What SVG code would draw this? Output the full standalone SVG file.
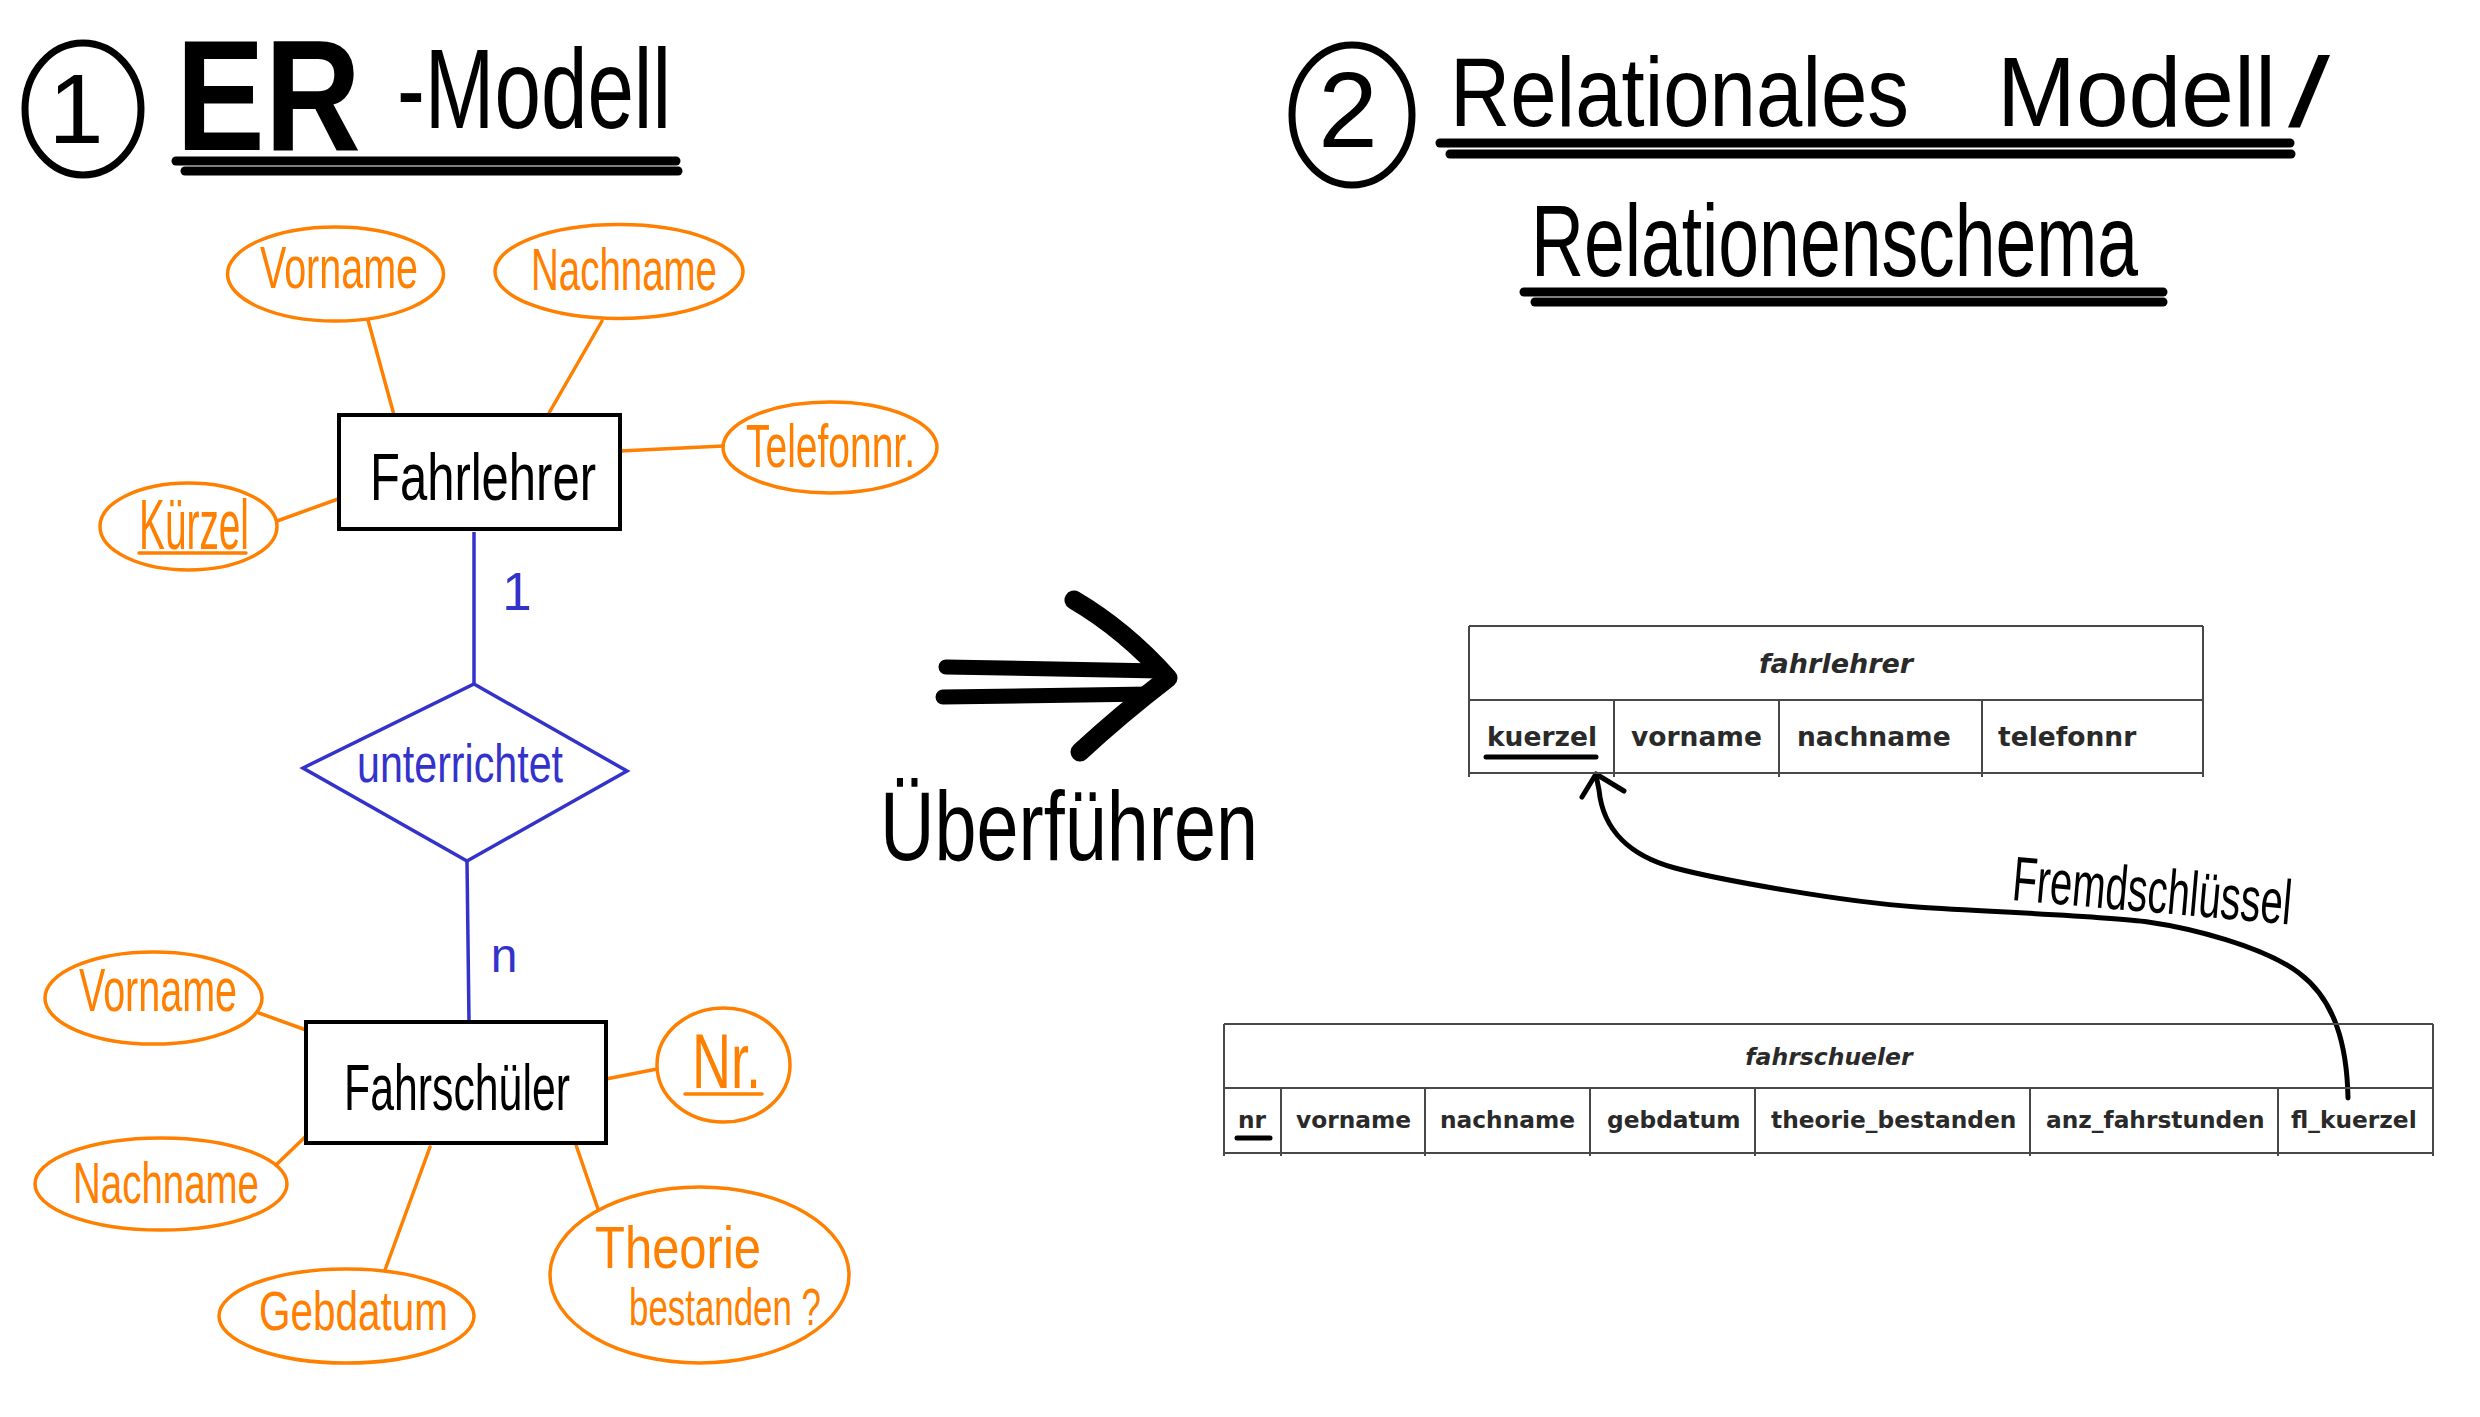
<svg xmlns="http://www.w3.org/2000/svg" width="2480" height="1417" viewBox="0 0 2480 1417">
<style>
.hw{font-family:"Liberation Sans Narrow","Liberation Sans",sans-serif;}
.org{fill:#ff8000;}
.blu{fill:#3333cc;}
.blk{fill:#000;}
.oe{fill:none;stroke:#ff8000;stroke-width:3.5;}
.ol{stroke:#ff8000;stroke-width:3.5;stroke-linecap:round;}
.bl{stroke:#3333cc;stroke-width:3.5;fill:none;}
.box{fill:#fff;stroke:#000;stroke-width:4;}
.ul{stroke:#000;stroke-width:9;stroke-linecap:round;}
.tb{font-family:"DejaVu Sans",sans-serif;font-weight:bold;fill:#2a2a2a;}
.tl{stroke:#484848;stroke-width:2;fill:none;}
.pen{fill:none;stroke:#000;stroke-linecap:round;stroke-linejoin:round;}
</style>

<rect width="2480" height="1417" fill="#fff"/>

<!-- Titles -->
<g id="title1">
<ellipse cx="83" cy="109" rx="58" ry="66" fill="none" stroke="#000" stroke-width="7"/>
<text class="hw blk" x="76" y="143" font-size="99" text-anchor="middle">1</text>
<text class="hw blk" x="176" y="150" font-size="158" font-weight="bold" textLength="185" lengthAdjust="spacingAndGlyphs">ER</text>
<text class="hw blk" x="397" y="128" font-size="113" textLength="274" lengthAdjust="spacingAndGlyphs">-Modell</text>
<line class="ul" x1="176" y1="161" x2="676" y2="161"/>
<line class="ul" x1="185" y1="171" x2="678" y2="171"/>
</g>

<g id="title2">
<ellipse cx="1352" cy="115" rx="60" ry="70" fill="none" stroke="#000" stroke-width="7"/>
<text class="hw blk" x="1348" y="147" font-size="107" text-anchor="middle">2</text>
<text class="hw blk" x="1450" y="126" font-size="98" textLength="459" lengthAdjust="spacingAndGlyphs">Relationales</text>
<text class="hw blk" x="1997" y="126" font-size="98" textLength="279" lengthAdjust="spacingAndGlyphs">Modell</text>
<text class="hw blk" x="2288" y="126" font-size="98" textLength="42" lengthAdjust="spacingAndGlyphs">/</text>
<line class="ul" x1="1440" y1="143" x2="2290" y2="143"/>
<line class="ul" x1="1450" y1="154" x2="2291" y2="154"/>
<text class="hw blk" x="1531" y="276" font-size="102" textLength="607" lengthAdjust="spacingAndGlyphs">Relationenschema</text>
<line class="ul" x1="1524" y1="292" x2="2163" y2="292"/>
<line class="ul" x1="1535" y1="302" x2="2163" y2="302"/>
</g>

<!-- Transition arrow -->
<g id="ueberfuehren">
<path class="pen" stroke-width="15" d="M946,667 L1160,671"/>
<path class="pen" stroke-width="15" d="M943,697 L1150,694"/>
<path class="pen" stroke-width="19" d="M1074,600 Q1125,630 1168,678 Q1120,715 1080,752"/>
<text class="hw blk" x="880" y="860" font-size="98" textLength="378" lengthAdjust="spacingAndGlyphs">Überführen</text>
</g>

<!-- Connectors -->
<g id="connectors">
<line class="ol" x1="368" y1="320" x2="394" y2="415"/>
<line class="ol" x1="602" y1="321" x2="549" y2="413"/>
<line class="ol" x1="620" y1="451" x2="723" y2="446"/>
<line class="ol" x1="277" y1="521" x2="338" y2="499"/>
<line class="ol" x1="259" y1="1013" x2="306" y2="1030"/>
<line class="ol" x1="305" y1="1137" x2="276" y2="1165"/>
<line class="ol" x1="606" y1="1079" x2="657" y2="1069"/>
<line class="ol" x1="430" y1="1147" x2="385" y2="1270"/>
<line class="ol" x1="575" y1="1142" x2="598" y2="1209"/>
<line class="bl" x1="474" y1="532" x2="474" y2="684"/>
<line class="bl" x1="467" y1="861" x2="469" y2="1022"/>
<text class="hw blu" x="517" y="610" font-size="53" text-anchor="middle">1</text>
<text class="hw blu" x="504" y="972" font-size="48" text-anchor="middle">n</text>
<path class="pen" stroke-width="5" d="M2348,1098 C2347,1045 2335,1000 2299,973 S2190,928 2148,922 S1990,912 1917,907 S1720,880 1675,868 S1603,830 1599,790 L1596,775"/>
<path class="pen" stroke-width="5" d="M1582,797 L1596,774 L1624,791"/>
<text class="hw blk" x="2011" y="900" font-size="63" textLength="280" lengthAdjust="spacingAndGlyphs" transform="rotate(5 2011 900)">Fremdschlüssel</text>
</g>

<!-- ER nodes -->
<g id="fahrlehrer-entity">
<rect class="box" x="339" y="415" width="281" height="114"/>
<text class="hw blk" x="370" y="500" font-size="66" textLength="226" lengthAdjust="spacingAndGlyphs">Fahrlehrer</text>
</g>
<g id="attr-fl-vorname">
<ellipse class="oe" cx="335.5" cy="274" rx="108" ry="47"/>
<text class="hw org" x="260" y="288" font-size="60" textLength="158" lengthAdjust="spacingAndGlyphs">Vorname</text>
</g>
<g id="attr-fl-nachname">
<ellipse class="oe" cx="619" cy="271.5" rx="124" ry="47"/>
<text class="hw org" x="531" y="290" font-size="59" textLength="186" lengthAdjust="spacingAndGlyphs">Nachname</text>
</g>
<g id="attr-fl-telefonnr">
<ellipse class="oe" cx="830" cy="447.5" rx="107" ry="45.5"/>
<text class="hw org" x="746" y="467" font-size="62" textLength="169" lengthAdjust="spacingAndGlyphs">Telefonnr.</text>
</g>
<g id="attr-fl-kuerzel">
<ellipse class="oe" cx="188.5" cy="526.5" rx="88.5" ry="43.5"/>
<text class="hw org" x="139" y="549" font-size="70" textLength="110" lengthAdjust="spacingAndGlyphs">Kürzel</text>
<line class="ol" x1="139" y1="553" x2="246" y2="553"/>
</g>
<g id="rel-unterrichtet">
<polygon class="bl" points="474,684 627,771 467,861 303,768"/>
<text class="hw blu" x="357" y="782" font-size="54" textLength="206" lengthAdjust="spacingAndGlyphs">unterrichtet</text>
</g>
<g id="fahrschueler-entity">
<rect class="box" x="306" y="1022" width="300" height="121"/>
<text class="hw blk" x="344" y="1110" font-size="64" textLength="226" lengthAdjust="spacingAndGlyphs">Fahrschüler</text>
</g>
<g id="attr-fs-vorname">
<ellipse class="oe" cx="153.5" cy="998" rx="108.5" ry="46"/>
<text class="hw org" x="79" y="1011" font-size="61" textLength="158" lengthAdjust="spacingAndGlyphs">Vorname</text>
</g>
<g id="attr-fs-nachname">
<ellipse class="oe" cx="161" cy="1184" rx="126" ry="46"/>
<text class="hw org" x="73" y="1203" font-size="58" textLength="186" lengthAdjust="spacingAndGlyphs">Nachname</text>
</g>
<g id="attr-fs-nr">
<ellipse class="oe" cx="723.5" cy="1065" rx="66.5" ry="57"/>
<text class="hw org" x="692" y="1088" font-size="78" textLength="69" lengthAdjust="spacingAndGlyphs">Nr.</text>
<line class="ol" x1="685" y1="1094" x2="762" y2="1094"/>
</g>
<g id="attr-fs-gebdatum">
<ellipse class="oe" cx="346.5" cy="1316" rx="127.5" ry="47"/>
<text class="hw org" x="259" y="1330" font-size="56" textLength="189" lengthAdjust="spacingAndGlyphs">Gebdatum</text>
</g>
<g id="attr-fs-theorie">
<ellipse class="oe" cx="699.5" cy="1275" rx="149.5" ry="88"/>
<text class="hw org" x="595" y="1268" font-size="60" textLength="166" lengthAdjust="spacingAndGlyphs">Theorie</text>
<text class="hw org" x="629" y="1325" font-size="52" textLength="192" lengthAdjust="spacingAndGlyphs">bestanden ?</text>
</g>

<!-- Relational tables -->
<g id="table-fahrlehrer">
<path class="tl" d="M1469,626 H2203 M1469,700 H2203 M1469,773 H2203 M1469,626 V777 M2203,626 V777 M1614,700 V777 M1779,700 V777 M1982,700 V777"/>
<text class="tb" x="1836" y="673" font-size="27" font-style="italic" text-anchor="middle">fahrlehrer</text>
<text class="tb" x="1487" y="746" font-size="26.5">kuerzel</text>
<text class="tb" x="1631" y="746" font-size="26.5">vorname</text>
<text class="tb" x="1797" y="746" font-size="26.5">nachname</text>
<text class="tb" x="1998" y="746" font-size="26.5">telefonnr</text>
<line x1="1486" y1="757" x2="1596" y2="757" stroke="#000" stroke-width="5" stroke-linecap="round"/>
</g>
<g id="table-fahrschueler">
<path class="tl" d="M1224,1024 H2433 M1224,1088 H2433 M1224,1153 H2433 M1224,1024 V1156 M2433,1024 V1156 M1281,1088 V1156 M1425,1088 V1156 M1590,1088 V1156 M1755,1088 V1156 M2030,1088 V1156 M2278,1088 V1156"/>
<text class="tb" x="1829" y="1065" font-size="23.5" font-style="italic" text-anchor="middle">fahrschueler</text>
<text class="tb" x="1238" y="1128" font-size="23.3">nr</text>
<text class="tb" x="1296" y="1128" font-size="23.3">vorname</text>
<text class="tb" x="1440" y="1128" font-size="23.3">nachname</text>
<text class="tb" x="1607" y="1128" font-size="23.3">gebdatum</text>
<text class="tb" x="1771" y="1128" font-size="23.3">theorie_bestanden</text>
<text class="tb" x="2046" y="1128" font-size="23.3">anz_fahrstunden</text>
<text class="tb" x="2291" y="1128" font-size="23.3">fl_kuerzel</text>
<line x1="1237" y1="1138" x2="1270" y2="1138" stroke="#000" stroke-width="5" stroke-linecap="round"/>
</g>
</svg>
